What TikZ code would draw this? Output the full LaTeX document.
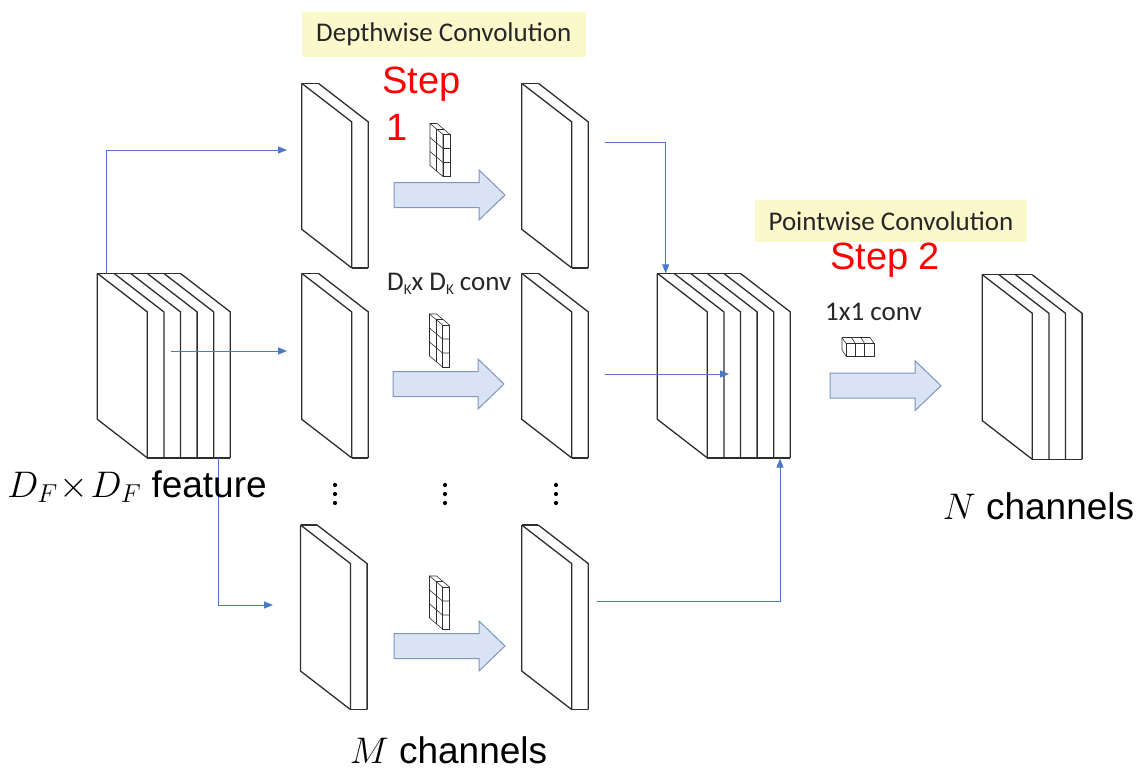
\RequirePackage{fix-cm}
\documentclass[tikz,border=0pt]{standalone}
\usepackage{fontspec}
\setmainfont{Liberation Sans}
\newfontfamily\carl{Carlito}
\usetikzlibrary{arrows.meta}
\definecolor{conncol}{HTML}{4A78C8}
\definecolor{bafill}{HTML}{DAE3F3}
\definecolor{badraw}{HTML}{7F96C0}
\definecolor{hlcol}{HTML}{FBF9CC}
\definecolor{slabcol}{HTML}{2E2E2E}
\tikzset{
  slabline/.style={draw=slabcol, line width=1.3pt, line join=miter},
  kline/.style={draw=slabcol, line width=0.6pt},
  conn/.style={draw=conncol, line width=1pt, -{Triangle[length=9pt,width=7pt]}},
  barrow/.style={draw=badraw, fill=bafill, line width=1pt},
  hlbox/.style={fill=hlcol, inner sep=0pt, font=\carl\fontsize{27}{30}\selectfont, text=black!85},
  steptext/.style={text=red, inner sep=0pt, font=\fontsize{38}{40}\selectfont},
  convtext/.style={inner sep=0pt, font=\carl\fontsize{27}{29}\selectfont, text=black!85},
  bigtext/.style={inner sep=0pt, font=\fontsize{37}{40}\selectfont},
}
\newcommand\slabstack[4]{%
 \begin{scope}[shift={(#2,#3)}]
  \fill[white] (0,0) -- (#4*16.6,0) -- (50+#4*16.6,38.6) -- (50+#4*16.6,184.6) -- (50,184.6) -- (0,146) -- cycle;
  \draw[slabline] (0,0) -- (0,146) -- (50,184.6);
  \draw[slabline] (0,0) -- (#4*16.6,0);
  \foreach \i in {0,...,#4} {\draw[slabline] (\i*16.6,0) -- (50+\i*16.6,38.6) -- (50+\i*16.6,184.6);}
  \draw[slabline] (50,184.6) -- (50+#4*16.6,184.6);
  \coordinate (#1) at (0,0);
 \end{scope}}
\newcommand\blockarrow[3]{%
  \draw[barrow] (#2,#3-12.5) -- (#2+85,#3-12.5) -- (#2+85,#3-25) -- (#2+111,#3) -- (#2+85,#3+25) -- (#2+85,#3+12.5) -- (#2,#3+12.5) -- cycle;
  \coordinate (#1) at (#2,#3);}
\newcommand\kernelthree[3]{%
 \begin{scope}[shift={(#2,#3)}]
  \fill[white] (0,0) -- (7,0) -- (20,11) -- (20,53) -- (13,53) -- (0,42) -- cycle;
  \draw[kline] (0,0) -- (13,11) -- (13,53) -- (0,42) -- cycle;
  \draw[kline] (13,11) rectangle (20,53);
  \draw[kline] (0,0) -- (7,0) -- (20,11);
  \foreach \k in {1,2} {\draw[kline] (0,14*\k) -- (13,11+14*\k) -- (20,11+14*\k);}
  \draw[kline] (6.5,5.5) -- (6.5,47.5);
  \draw[kline] (6.5,5.5) -- (13.5,5.5);
  \coordinate (#1) at (0,0);
 \end{scope}}
\begin{document}
\begin{tikzpicture}[x=1pt,y=-1pt]
\useasboundingbox (0,0) rectangle (1140,771);
% highlight labels
\node[hlbox, minimum width=284pt, minimum height=45pt] (dwlab) at (443.8,34.2) {Depthwise Convolution};
\node[hlbox, minimum width=272pt, minimum height=42pt] (pwlab) at (891,221) {Pointwise Convolution};
\node[steptext, anchor=base west] (step1a) at (382,93) {Step};
\node[steptext, anchor=base west] (step1b) at (386,140) {1};
\node[steptext, anchor=base west] (step2) at (830,269) {Step 2};
\node[convtext, anchor=base west] (dkconv) at (387,290) {D\raisebox{-4pt}{\fontsize{15}{15}\selectfont K}x D\raisebox{-4pt}{\fontsize{15}{15}\selectfont K} conv};
\node[convtext, anchor=base west] (pconv) at (825,320) {1x1 conv};
% stacks
\slabstack{F}{97.3}{273.3}{5}
\slabstack{a1}{301.7}{83.3}{1}
\slabstack{a2}{301.7}{273.3}{1}
\slabstack{a3}{300.5}{525}{1}
\slabstack{b1}{521.7}{83.3}{1}
\slabstack{b2}{521.7}{273.3}{1}
\slabstack{b3}{521.7}{525}{1}
\slabstack{Mst}{657.3}{273.3}{5}
\slabstack{Nst}{982.3}{274.7}{3}
% block arrows
\blockarrow{ba1}{394}{195}
\blockarrow{ba2}{393}{384}
\blockarrow{ba3}{394}{646}
\blockarrow{ba4}{830}{385.7}
% kernels
\kernelthree{k1}{430}{123.5}
\kernelthree{k2}{429.5}{314}
\kernelthree{k3}{429.5}{576}
\begin{scope}[shift={(842,337.5)}]
  \fill[white] (0,0) -- (28,0) -- (32,6) -- (32,18.5) -- (4,18.5) -- (0,12.5) -- cycle;
  \draw[kline] (4,6) rectangle (32,18.5);
  \draw[kline] (13.3,6) -- (13.3,18.5);
  \draw[kline] (22.7,6) -- (22.7,18.5);
  \draw[kline] (0,0) -- (28,0) -- (32,6);
  \draw[kline] (0,0) -- (4,6);
  \draw[kline] (9.3,0) -- (13.3,6);
  \draw[kline] (18.7,0) -- (22.7,6);
  \draw[kline] (0,0) -- (0,12.5) -- (4,18.5);
  \coordinate (k4) at (0,0);
\end{scope}
% dots
\foreach \xx in {335,445,556} {\foreach \yy in {485,494,503} {\fill (\xx,\yy) circle (2.1pt);}}
% connector endpoints
\coordinate (Fup) at (106.7,273.3);
\coordinate (Fmid) at (170.7,351);
\coordinate (Fdown) at (218.3,458.3);
\coordinate (a1in) at (287,150);
\coordinate (a2in) at (287,351);
\coordinate (a3in) at (273,605);
\coordinate (b1out) at (605,142);
\coordinate (b2out) at (605,374);
\coordinate (b3out) at (597,601);
\coordinate (Mtop) at (665.7,273.3);
\coordinate (Mmid) at (729,374);
\coordinate (Mbot) at (780,458.5);
\draw[conn] (Fup) |- (a1in);
\draw[conn] (Fmid) -- (a2in);
\draw[conn] (Fdown) |- (a3in);
\draw[conn] (b1out) -| (Mtop);
\draw[conn] (b2out) -- (Mmid);
\draw[conn] (b3out) -| (Mbot);
% labels
\node[bigtext, anchor=base] (flab) at (137,497) {$D_F\!\times\! D_F$ feature};
\node[bigtext, anchor=base] (nlab) at (1038.5,519) {$N$ channels};
\node[bigtext, anchor=base] (mlab) at (448.5,763) {$M$ channels};
\end{tikzpicture}
\end{document}
